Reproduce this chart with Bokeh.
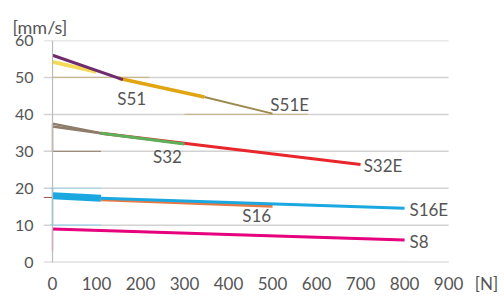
from bokeh.plotting import figure
from bokeh.models import Range1d, Span, Title, FixedTicker
from bokeh.core.properties import value
from bokeh.embed import file_html
from bokeh.resources import INLINE

# ---- data ----
x_ticks = [0, 100, 200, 300, 400, 500, 600, 700, 800, 900]
y_ticks = [0, 10, 20, 30, 40, 50, 60]
x_unit_pos = 986
x_unit = "[N]"
y_unit = "[mm/s]"

s51_purple_x = [0, 160]
s51_purple_y = [56.0, 49.4]
s51_yellow_x = [0, 100]
s51_yellow_y = [54.2, 51.5]
s51_x = [150, 345]
s51_y = [49.8, 44.7]
s51e_x = [345, 500]
s51e_y = [44.7, 40.2]

s32_start_x = [0, 110]
s32_start_y1 = [37.5, 34.9]
s32_start_y2 = [36.7, 34.9]
s32_x = [110, 300]
s32_y = [34.9, 32.0]
s32e_x = [110, 700]
s32e_y = [34.9, 26.4]

s16_start_x = [0, 110]
s16_start_y = [18.0, 17.3]
s16e_x = [110, 800]
s16e_y = [17.3, 14.6]
s16_x = [110, 500]
s16_y = [16.9, 15.1]

s8_x = [0, 800]
s8_y = [9.0, 6.0]

labels = ["S51", "S51E", "S32", "S32E", "S16", "S16E", "S8"]
label_x = [180, 539, 261, 707, 464, 811, 811]
label_y = [44.4, 42.8, 28.5, 26.2, 12.6, 14.3, 5.7]
label_align = ["center", "center", "center", "left", "center", "left", "left"]

FONT = "Lato"
TXT = "#555555"
GRID = "#D2D2D2"

p = figure(width=502, height=296, output_backend="svg", toolbar_location=None,
           x_range=Range1d(-20.5, 1018), y_range=Range1d(-0.1, 60),
           min_border_left=43, min_border_right=2, min_border_top=40, min_border_bottom=29)
p.outline_line_color = None
p.background_fill_color = "white"
p.border_fill_color = "white"

# axes
p.xaxis.ticker = FixedTicker(ticks=x_ticks + [x_unit_pos])
p.xaxis.major_label_overrides = {x_unit_pos: x_unit}
p.yaxis.ticker = FixedTicker(ticks=y_ticks)
for ax in (p.xaxis[0], p.yaxis[0]):
    ax.axis_line_color = None
    ax.major_label_text_font = FONT
    ax.major_label_text_color = TXT
    ax.minor_tick_line_color = None
    ax.major_tick_line_color = None
    ax.major_tick_in = 0
p.xaxis.major_label_text_font_size = "17px"
p.yaxis.major_label_text_font_size = "16px"
p.yaxis.major_tick_out = 0
p.yaxis.major_label_standoff = 10
p.xaxis.major_tick_out = 4
p.xaxis.major_label_standoff = 6

p.xgrid.grid_line_color = None
p.ygrid.grid_line_color = None

# grid lines (stop at 900)
p.segment(x0=[-20.5] * len(y_ticks), x1=[900] * len(y_ticks), y0=y_ticks, y1=y_ticks,
          line_color=GRID, line_width=1.5)
# small tick marks along the bottom
p.segment(x0=x_ticks, x1=x_ticks, y0=[0] * len(x_ticks), y1=[-1.2] * len(x_ticks),
          line_color="#DDDDDD", line_width=1)

p.add_layout(Span(location=0, dimension="height", line_color="#BBBBBB", line_width=1.2))

# faint reference marks
p.line([0, 220], [50, 50], line_color="#C9B98F", line_width=1.2)
p.line([300, 580], [40, 40], line_color="#C9B98F", line_width=1.2)
p.line([0, 110], [30, 30], line_color="#9C8C7C", line_width=1.2)
p.line([0, 0], [37.5, 30], line_color="#9C8C7C", line_width=1.5)
p.line([-5, 110], [20, 20], line_color="#9FD4EC", line_width=1.2)
p.line([-5, 110], [10, 10], line_color="#9FD4EC", line_width=1.2)
p.line([0, 0], [20, 10], line_color="#5BC0EB", line_width=1.5)
p.line([-20.5, 0], [17.5, 17.5], line_color="#A0594A", line_width=1.2)
p.line([0, 0], [9.0, 3], line_color="#F07AB8", line_width=1.5)

# S51 group
p.line(s51_yellow_x, s51_yellow_y, line_color="#F3D33A", line_width=4, line_alpha=0.85)
p.line(s51e_x, s51e_y, line_color="#9C8A4E", line_width=2)
p.line(s51_x, s51_y, line_color="#E0A510", line_width=3.5)
p.line(s51_purple_x, s51_purple_y, line_color="#6E2B6E", line_width=3)

# S32 group
p.line(s32_start_x, s32_start_y1, line_color="#8E7D6B", line_width=2.5)
p.line(s32_start_x, s32_start_y2, line_color="#8E7D6B", line_width=2.5)
p.line(s32e_x, s32e_y, line_color="#E8262C", line_width=3)
p.line(s32_x, s32_y, line_color="#5DAF5A", line_width=3)

# S16 group
p.line(s16_x, s16_y, line_color="#E57A45", line_width=3)
p.line(s16e_x, s16e_y, line_color="#1BA8E0", line_width=3)
p.line(s16_start_x, s16_start_y, line_color="#1BA8E0", line_width=7)

# S8
p.line(s8_x, s8_y, line_color="#E6007E", line_width=3)

# series labels
for t, lx, ly, al in zip(labels, label_x, label_y, label_align):
    p.text(x=[lx], y=[ly], text=[t], text_font=value(FONT), text_font_size="17px",
           text_color=TXT, text_align=al, text_baseline="middle")

# y unit as a title above the plot
p.add_layout(Title(text=y_unit, align="left", offset=-31, standoff=5,
                   text_font=FONT, text_font_size="18px", text_color=TXT,
                   text_font_style="normal"), "above")

open("out.html", "w").write(file_html(p, INLINE))
